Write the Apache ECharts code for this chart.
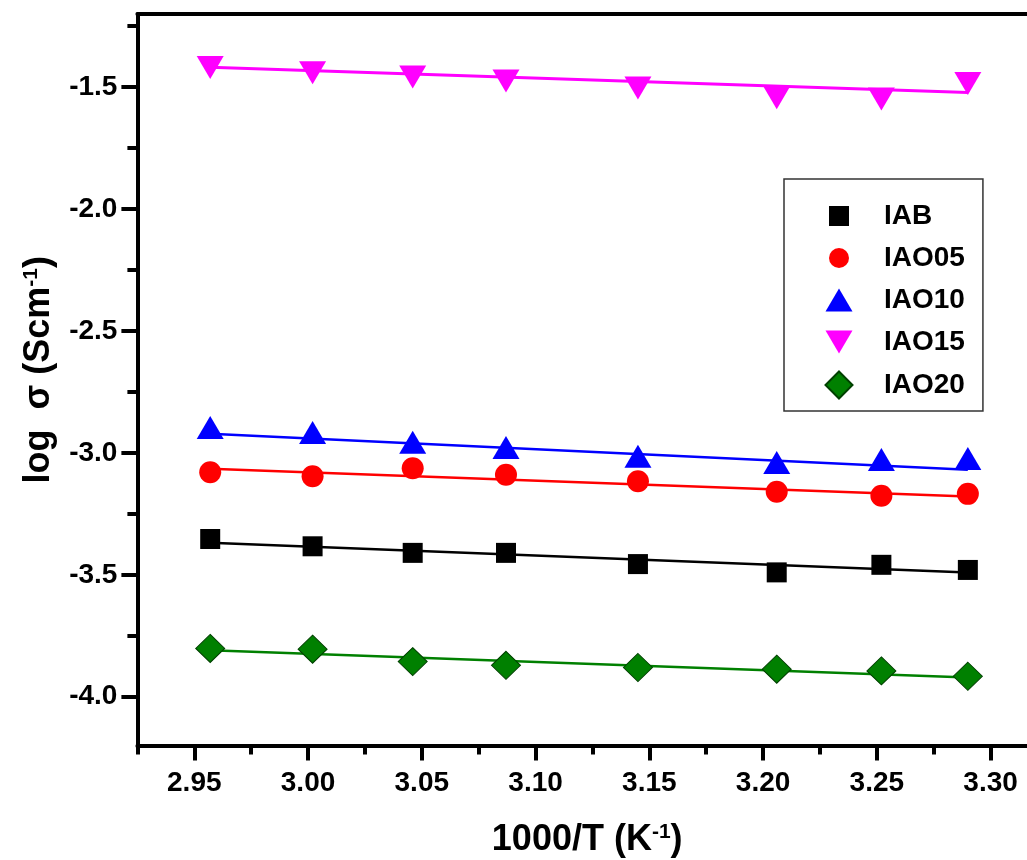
<!DOCTYPE html>
<html>
<head>
<meta charset="utf-8">
<script src="https://cdn.jsdelivr.net/npm/echarts@6/dist/echarts.min.js"></script>
<style>
html,body{margin:0;padding:0;background:#fff;}
#chart{width:1027px;height:860px;}
</style>
</head>
<body>
<div id="chart"></div>
<script>
// ---- data ----
const xVals = [2.957, 3.002, 3.046, 3.087, 3.145, 3.206, 3.252, 3.290];
const IAB   = [-3.353, -3.383, -3.410, -3.410, -3.456, -3.490, -3.459, -3.480];
const IAO05 = [-3.079, -3.096, -3.063, -3.090, -3.116, -3.159, -3.176, -3.168];
const IAO10 = [-2.896, -2.916, -2.956, -2.978, -3.014, -3.039, -3.027, -3.023];
const IAO15 = [-1.419, -1.441, -1.458, -1.475, -1.503, -1.543, -1.549, -1.485];
const IAO20 = [-3.802, -3.805, -3.856, -3.871, -3.880, -3.887, -3.894, -3.916];
// linear-fit line end points (at first and last x)
const fitX     = [2.957, 3.290];
const fitIAB   = [-3.368, -3.491];
const fitIAO05 = [-3.065, -3.179];
const fitIAO10 = [-2.921, -3.069];
const fitIAO15 = [-1.418, -1.522];
const fitIAO20 = [-3.809, -3.921];
const names = ['IAB', 'IAO05', 'IAO10', 'IAO15', 'IAO20'];
const xMajor = [2.95, 3.00, 3.05, 3.10, 3.15, 3.20, 3.25, 3.30];
const xMinor = [2.925, 2.975, 3.025, 3.075, 3.125, 3.175, 3.225, 3.275];
const yMajor = [-4.0, -3.5, -3.0, -2.5, -2.0, -1.5];
const yMinor = [-3.75, -3.25, -2.75, -2.25, -1.75, -1.25];
const xMin = 2.925, xMax = 3.316, yMin = -4.2, yMax = -1.2;

const FONT = "'Liberation Sans', Arial, sans-serif";
const colors = ['#000000', '#ff0000', '#0000ff', '#ff00ff', '#008000'];
const ys = [IAB, IAO05, IAO10, IAO15, IAO20];
const fits = [fitIAB, fitIAO05, fitIAO10, fitIAO15, fitIAO20];
const symbols = ['rect', 'circle', 'triangle', 'triangle', 'diamond'];
const symSizes = [[20, 20], [22, 22], [27, 23], [27, 23], [29, 28]];
const symRot = [0, 0, 0, 180, 0];
const legendIcons = [
  'path://M0,0M28,28M4,4L24,4L24,24L4,24Z',
  'path://M0,0M28,28M4,14A10,10,0,1,1,24,14A10,10,0,1,1,4,14Z',
  'path://M0,0M28,28M0.5,25.5L14,2.5L27.5,25.5Z',
  'path://M0,0M28,28M0.5,2.5L27.5,2.5L14,25.5Z',
  'path://M0,0M28,28M14,0.5L27.5,14L14,27.5L0.5,14Z'
];

const series = [];
names.forEach((n, i) => {
  series.push({
    name: n + ' fit', type: 'line', xAxisIndex: 0, yAxisIndex: 0,
    data: fitX.map((x, k) => [x, fits[i][k]]),
    showSymbol: false, symbol: 'none', silent: true, z: 2,
    lineStyle: { color: colors[i], width: i === 3 ? 3 : 2.5 }
  });
});
names.forEach((n, i) => {
  series.push({
    name: n, type: 'scatter', xAxisIndex: 0, yAxisIndex: 0,
    data: xVals.map((x, k) => [x, ys[i][k]]),
    symbol: symbols[i], symbolSize: symSizes[i], symbolRotate: symRot[i],
    itemStyle: { color: colors[i], borderColor: i === 4 ? '#004000' : colors[i], borderWidth: i === 4 ? 1 : 0, opacity: 1 },
    z: 5
  });
});

const supRich = { s: { fontFamily: FONT, fontWeight: 'bold', fontSize: 21, color: '#000', verticalAlign: 'top', padding: [0, 0, 16, 0] } };

const chart = echarts.init(document.getElementById('chart'), null, { renderer: 'canvas' });
chart.setOption({
  animation: false,
  backgroundColor: '#fff',
  grid: { left: 137.4, top: 14, right: 0, bottom: 114.5, show: false, containLabel: false, outerBoundsMode: 'none' },
  legend: {
    data: names.map((n, i) => ({ name: n, icon: legendIcons[i] })),
    orient: 'vertical', left: 784, top: 179,
    itemWidth: 28, itemHeight: 28, itemGap: 14,
    padding: [23, 18, 11, 40],
    borderColor: '#333', borderWidth: 1.5, backgroundColor: '#fff',
    textStyle: { fontFamily: FONT, fontWeight: 'bold', fontSize: 28, color: '#000', padding: [0, 0, 0, 26] },
    selectedMode: false
  },
  xAxis: [{
    type: 'value', min: xMin, max: xMax, position: 'bottom',
    name: '1000/T (K{s|-1})', nameLocation: 'middle', nameGap: 76,
    nameTextStyle: { fontFamily: FONT, fontWeight: 'bold', fontSize: 36, color: '#000', padding: [0, 0, 0, 10], rich: supRich },
    axisLine: { show: true, onZero: false, lineStyle: { color: '#000', width: 4 } },
    axisTick: { show: true, customValues: xMajor, length: 15, lineStyle: { color: '#000', width: 4 } },
    axisLabel: { show: true, customValues: xMajor, margin: 24, formatter: v => v.toFixed(2),
      fontFamily: FONT, fontWeight: 'bold', fontSize: 28, color: '#000' },
    splitLine: { show: false }
  }, {
    type: 'value', min: xMin, max: xMax, position: 'bottom',
    axisLine: { show: false, onZero: false },
    axisTick: { show: true, customValues: xMinor, length: 9, lineStyle: { color: '#000', width: 4 } },
    axisLabel: { show: false },
    splitLine: { show: false }
  }, {
    type: 'value', min: xMin, max: xMax, position: 'top',
    axisLine: { show: true, onZero: false, lineStyle: { color: '#000', width: 4 } },
    axisTick: { show: false },
    axisLabel: { show: false },
    splitLine: { show: false }
  }],
  yAxis: [{
    type: 'value', min: yMin, max: yMax, position: 'left',
    name: 'log  σ (Scm{s|-1})', nameLocation: 'middle', nameGap: 80,
    nameTextStyle: { fontFamily: FONT, fontWeight: 'bold', fontSize: 36, color: '#000', padding: [0, 0, 0, 20], rich: supRich },
    axisLine: { show: true, onZero: false, lineStyle: { color: '#000', width: 4 } },
    axisTick: { show: true, customValues: yMajor, length: 16, lineStyle: { color: '#000', width: 4 } },
    axisLabel: { show: true, customValues: yMajor, margin: 20, formatter: v => v.toFixed(1),
      fontFamily: FONT, fontWeight: 'bold', fontSize: 28, color: '#000' },
    splitLine: { show: false }
  }, {
    type: 'value', min: yMin, max: yMax, position: 'left',
    axisLine: { show: false, onZero: false },
    axisTick: { show: true, customValues: yMinor, length: 10, lineStyle: { color: '#000', width: 4 } },
    axisLabel: { show: false },
    splitLine: { show: false }
  }],
  series: series
});
</script>
</body>
</html>
